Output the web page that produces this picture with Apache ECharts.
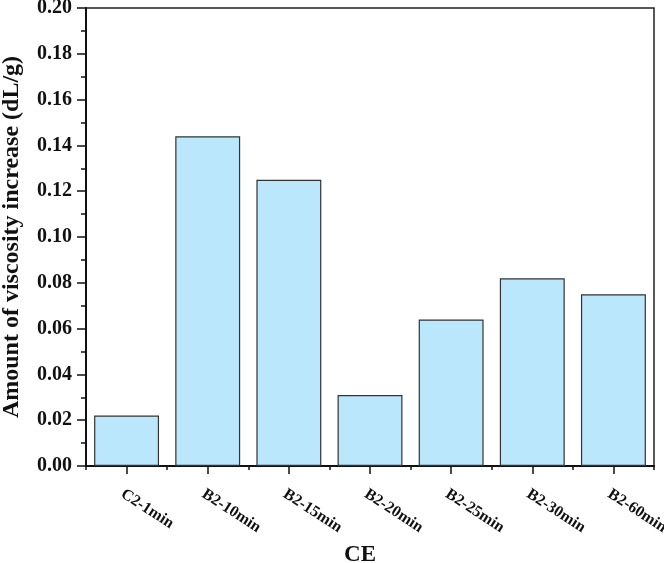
<!DOCTYPE html>
<html>
<head>
<meta charset="utf-8">
<script src="https://cdn.jsdelivr.net/npm/echarts@6/dist/echarts.min.js"></script>
<style>html,body{margin:0;padding:0;background:#fff;}#c{width:664px;height:563px;}</style>
</head>
<body>
<div id="c"></div>
<script>
var categories = ['C2-1min', 'B2-10min', 'B2-15min', 'B2-20min', 'B2-25min', 'B2-30min', 'B2-60min'];
var values = [0.022, 0.144, 0.125, 0.031, 0.064, 0.082, 0.075];
var yMin = 0, yMax = 0.20, yStep = 0.02;
var xTitle = 'CE';
var yTitle = 'Amount of viscosity increase (dL/g)';

var font = '"Liberation Serif", "Times New Roman", serif';
var chart = echarts.init(document.getElementById('c'), null, {renderer: 'canvas'});
chart.setOption({
  animation: false,
  backgroundColor: '#fff',
  grid: {left: 86, right: 10, top: 8, bottom: 97, containLabel: false, outerBoundsMode: 'none',
    show: true, borderColor: '#222', borderWidth: 1.5, backgroundColor: 'transparent'},
  xAxis: [{
    type: 'category',
    data: categories,
    name: xTitle,
    nameLocation: 'middle',
    nameGap: 78,
    nameTextStyle: {fontFamily: font, fontWeight: 'bold', fontSize: 23, color: '#111', padding: [0, 20, 0, 0]},
    axisLine: {show: true, lineStyle: {color: '#111', width: 2}},
    axisTick: {show: true, alignWithLabel: true, length: 8, lineStyle: {color: '#111', width: 1.5}},
    axisLabel: {rotate: -33, margin: 20, verticalAlign: 'top', fontFamily: font, fontWeight: 'bold', fontSize: 16, color: '#111', interval: 0},
    splitLine: {show: false}
  }, {
    type: 'category',
    data: categories,
    position: 'bottom',
    axisLine: {show: false},
    axisTick: {show: true, alignWithLabel: false, length: 4, lineStyle: {color: '#111', width: 1.5}},
    axisLabel: {show: false},
    splitLine: {show: false}
  }],
  yAxis: {
    type: 'value',
    min: yMin, max: yMax, interval: yStep,
    name: yTitle,
    nameLocation: 'middle',
    nameGap: 62,
    nameTextStyle: {fontFamily: font, fontWeight: 'bold', fontSize: 24, color: '#111'},
    axisLine: {show: true, lineStyle: {color: '#111', width: 2}},
    axisTick: {show: true, length: 9, lineStyle: {color: '#111', width: 1.5}},
    minorTick: {show: true, splitNumber: 2, length: 5, lineStyle: {color: '#111', width: 1.5}},
    axisLabel: {margin: 14, fontFamily: font, fontWeight: 'bold', fontSize: 20, color: '#111',
      formatter: function (v) { return v.toFixed(2); }},
    splitLine: {show: false}
  },
  series: [{
    type: 'bar',
    data: values,
    xAxisIndex: 0,
    barCategoryGap: '20%',
    itemStyle: {color: '#BBE7FC', borderColor: '#333', borderWidth: 1.2}
  }]
});
</script>
</body>
</html>
